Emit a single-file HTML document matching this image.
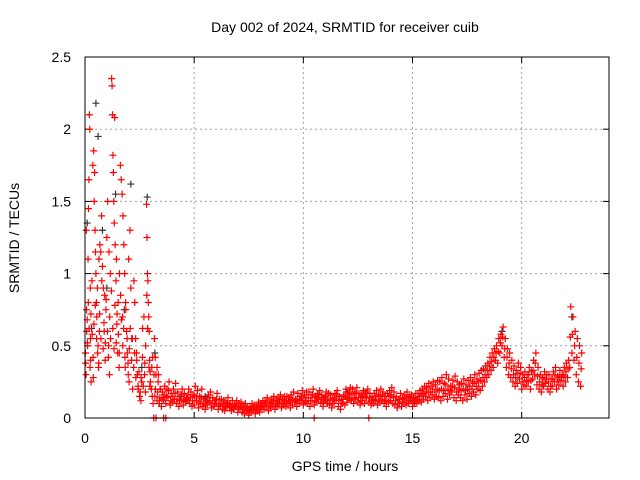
<!DOCTYPE html>
<html><head><meta charset="utf-8"><style>
html,body{margin:0;padding:0;background:#fff;}
svg{display:block;font-family:"Liberation Sans",sans-serif;}
</style></head><body>
<svg id="chart" width="640" height="480" viewBox="0 0 640 480">
<text x="345" y="32" text-anchor="middle" font-size="14">Day 002 of 2024, SRMTID for receiver cuib</text>
<text x="345" y="471" text-anchor="middle" font-size="14">GPS time / hours</text>
<text transform="translate(19,238) rotate(-90)" text-anchor="middle" font-size="14">SRMTID / TECUs</text>
<g id="grid"></g>
<g id="ticks"></g>
<g id="pts"></g>
<rect x="85" y="57" width="524" height="361" fill="none" stroke="#000" stroke-width="1"/>
</svg>
<script>
const xTicks=[0,5,10,15,20];
const yTicks=[0,0.5,1,1.5,2,2.5];
const yTickLabels=["0","0.5","1","1.5","2","2.5"];
const earlyX=[0.02,0.05,0.08,0.1,0.12,0.14,0.16,0.18,0.2,0.22,0.24,0.26,0.28,0.15,0.06,0.25,
0.32,0.36,0.4,0.44,0.46,0.5,0.54,0.58,0.62,0.66,0.68,0.42,0.52,0.6,0.64,0.38,0.48,
0.72,0.76,0.8,0.84,0.88,0.92,0.96,1.0,1.04,1.08,1.12,1.16,0.9,1.1,
1.22,1.24,1.26,1.28,1.3,1.34,1.38,1.42,1.46,1.5,1.32,1.36,1.44,1.52,1.56,1.58,
1.62,1.66,1.7,1.74,1.78,1.82,1.86,1.9,1.94,1.98,2.02,2.06,2.1,2.14,2.18,1.84,1.72,2.0,
2.24,2.28,2.32,2.36,2.4,2.44,2.5,2.56,2.6,2.64,2.7,2.74,2.78,
2.82,2.84,2.86,2.88,2.9,2.92,2.94,2.96,2.98,3.0,3.04,3.08,3.12,3.16,3.18,3.1,3.06,
3.22,3.3,3.36,3.44,3.15,3.25,3.6,3.7,10.5,13.0,
0.03,0.07,0.11,0.19,0.23,0.27,0.33,0.37,0.41,0.47,0.53,0.57,0.63,0.67,0.73,0.77,0.83,0.87,0.93,0.97,
1.03,1.07,1.13,1.17,1.21,1.27,1.33,1.37,1.43,1.47,1.53,1.57,1.63,1.67,1.73,1.77,1.83,1.87,1.93,1.97,
2.03,2.07,2.13,2.17,2.23,2.27,2.33,2.37,2.43,2.47,2.53,2.57,2.63,2.67,2.73,2.77,2.83,2.87,2.93,2.97];
const earlyY=[0.45,0.3,0.6,0.68,0.5,1.1,1.45,1.65,2.1,2.0,0.9,0.4,0.25,0.8,1.3,0.55,
0.95,1.75,1.85,1.7,1.3,1.0,0.7,0.45,0.35,0.6,1.2,1.5,0.8,0.5,1.1,0.28,1.15,
1.15,1.4,1.05,0.9,0.6,0.4,0.75,1.25,1.5,0.5,0.3,1.0,0.85,1.15,
2.35,2.3,2.1,1.82,1.7,1.35,1.2,0.95,0.65,0.45,1.5,2.08,1.1,0.8,0.35,1.0,
1.75,1.65,1.55,1.4,1.2,1.0,0.8,0.6,0.45,0.3,0.25,1.3,0.9,0.55,0.2,0.35,0.7,1.1,
0.95,0.8,0.55,0.45,0.3,0.2,0.15,0.12,0.25,0.62,0.7,0.38,0.5,
1.48,1.25,1.0,0.95,0.8,0.7,0.6,0.4,0.32,0.25,0.2,0.15,0.1,0.3,0.55,0.42,0.35,
0.42,0.35,0.3,0.2,0,0,0,0,0,0,
0.38,0.75,0.52,0.62,0.35,0.72,0.58,0.42,0.65,0.78,0.55,0.9,0.38,0.72,0.55,0.95,0.48,0.66,0.52,0.82,
0.6,0.42,0.7,0.55,0.88,0.62,0.48,0.78,0.52,0.72,0.58,0.45,0.85,0.68,0.5,0.62,0.42,0.75,0.55,0.38,
0.48,0.62,0.4,0.55,0.35,0.45,0.28,0.4,0.22,0.32,0.18,0.28,0.42,0.22,0.3,0.18,0.85,0.62,0.35,0.22];
const darkX=[0.5,0.6,0.1,2.1,2.85,0.8,1.4,3.2,3.4,1.8,0.3,1.0,2.6,19.1,22.3,5.5,12.0];
const darkY=[2.18,1.95,1.35,1.62,1.53,1.3,1.55,0.45,0.1,0.75,0.62,0.9,0.35,0.6,0.7,0.15,0.18];
const bandStart=3.2, bandStep=0.1;
const bandA=[.15,.12,.1,.08,.12,.1,.14,.09,.11,.13,
.1,.08,.12,.09,.11,.13,.1,.08,.09,.12,
.07,.1,.08,.06,.09,.11,.07,.08,.1,.06,
.08,.06,.05,.07,.09,.05,.06,.08,.04,.06,
.04,.03,.05,.02,.04,.06,.03,.05,.04,.07,
.06,.08,.05,.07,.09,.06,.08,.1,.07,.09,
.08,.1,.07,.09,.11,.08,.1,.12,.09,.11,
.1,.08,.12,.09,.11,.13,.1,.08,.12,.1,
.09,.07,.1,.12,.08,.06,.1,.09,.11,.13,
.12,.1,.13,.11,.09,.12,.1,.14,.11,.09,
.1,.12,.09,.11,.13,.1,.08,.11,.12,.1,
.09,.07,.1,.08,.11,.09,.1,.12,.08,.1,
.1,.12,.11,.13,.15,.12,.14,.16,.13,.15,
.14,.12,.15,.17,.13,.16,.18,.14,.12,.16,
.14,.12,.16,.13,.17,.15,.18,.16,.2,.19,
.22,.25,.28,.3,.33,.35,.4,.38,.45,.5,
.42,.35,.3,.28,.25,.22,.24,.27,.2,.23,
.22,.25,.2,.27,.3,.23,.2,.18,.22,.24,
.2,.18,.22,.25,.2,.23,.26,.22,.25,.28,
.35,.45,.4,.3,.25,.22];
const bandB=[.3,.25,.2,.18,.22,.2,.25,.17,.2,.24,
.18,.15,.2,.17,.14,.2,.18,.16,.22,.19,
.15,.2,.13,.12,.16,.18,.14,.12,.17,.13,
.13,.12,.11,.14,.1,.12,.09,.12,.1,.11,
.09,.1,.08,.07,.1,.09,.08,.11,.1,.12,
.12,.14,.11,.13,.15,.12,.14,.16,.13,.15,
.15,.14,.16,.18,.13,.17,.15,.19,.16,.18,
.18,.16,.2,.15,.17,.19,.16,.14,.18,.17,
.16,.14,.17,.19,.15,.13,.16,.2,.18,.21,
.2,.18,.21,.17,.16,.19,.18,.2,.17,.15,
.17,.19,.16,.2,.18,.15,.17,.19,.21,.18,
.15,.13,.17,.14,.16,.18,.15,.16,.14,.17,
.17,.19,.2,.22,.21,.24,.22,.25,.23,.26,
.25,.28,.24,.3,.27,.22,.26,.29,.25,.23,
.24,.27,.23,.26,.28,.25,.3,.27,.31,.33,
.34,.36,.38,.42,.45,.48,.5,.55,.58,.63,
.55,.48,.45,.4,.36,.33,.38,.35,.3,.32,
.3,.35,.32,.4,.45,.35,.3,.28,.32,.3,
.3,.27,.32,.35,.29,.33,.3,.35,.38,.4,
.77,.7,.6,.55,.5,.45];
const bandC=[.2,.18,.14,.13,.16,.15,.19,.12,.15,.17,
.13,.12,.16,.13,.12,.16,.14,.12,.15,.15,
.11,.14,.1,.09,.12,.14,.1,.1,.13,.09,
.1,.09,.08,.1,.07,.08,.07,.1,.07,.08,
.06,.07,.06,.05,.07,.07,.06,.08,.07,.09,
.09,.11,.08,.1,.12,.09,.11,.13,.1,.12,
.11,.12,.11,.13,.12,.12,.13,.15,.12,.14,
.14,.12,.16,.12,.14,.16,.13,.11,.15,.13,
.12,.1,.13,.16,.12,.1,.13,.15,.14,.17,
.16,.14,.17,.14,.12,.15,.14,.17,.14,.12,
.13,.15,.12,.15,.16,.12,.12,.15,.16,.14,
.12,.1,.13,.11,.13,.14,.12,.14,.11,.13,
.13,.15,.16,.17,.18,.18,.18,.2,.18,.2,
.19,.2,.19,.23,.2,.19,.22,.21,.18,.2,
.19,.2,.19,.2,.22,.2,.24,.22,.25,.26,
.28,.3,.33,.36,.39,.42,.45,.46,.52,.56,
.48,.42,.38,.34,.3,.28,.31,.31,.25,.28,
.26,.3,.26,.33,.38,.29,.25,.23,.27,.27,
.25,.22,.27,.3,.25,.28,.28,.29,.32,.34,
.56,.58,.5,.42,.38,.34];

const X0=85,X1=609,Y0=418,Y1=57,XMAX=24,YMAX=2.5;
const sx=v=>X0+v/XMAX*(X1-X0);
const sy=v=>Y0-v/YMAX*(Y0-Y1);
const NS="http://www.w3.org/2000/svg";
const grid=document.getElementById('grid'),ticks=document.getElementById('ticks'),pts=document.getElementById('pts');
function mk(tag,attrs,parent){const e=document.createElementNS(NS,tag);for(const k in attrs)e.setAttribute(k,attrs[k]);parent.appendChild(e);return e;}
xTicks.forEach(t=>{
  const x=sx(t);
  if(t>0){const g=mk('line',{x1:x,x2:x,y1:Y1,y2:Y0,stroke:'#a0a0a0','stroke-dasharray':'2,3'},grid);
  
  }
  mk('line',{x1:x,x2:x,y1:Y0,y2:Y0-6,stroke:'#000'},ticks);
  mk('line',{x1:x,x2:x,y1:Y1,y2:Y1+6,stroke:'#000'},ticks);
  const l=mk('text',{x:x,y:443,'text-anchor':'middle','font-size':'14'},ticks);
  l.textContent=String(t);
  
  
});
yTicks.forEach((t,i)=>{
  const y=sy(t);
  if(t>0&&t<YMAX){const g=mk('line',{x1:X0,x2:X1,y1:y,y2:y,stroke:'#a0a0a0','stroke-dasharray':'2,3'},grid);
  
  }
  mk('line',{x1:X0,x2:X0+6,y1:y,y2:y,stroke:'#000'},ticks);
  mk('line',{x1:X1,x2:X1-6,y1:y,y2:y,stroke:'#000'},ticks);
  const l=mk('text',{x:71,y:y+5,'text-anchor':'end','font-size':'14'},ticks);
  l.textContent=yTickLabels[i];
  
  
});
function cross(x,y,color){
  const px=sx(x),py=sy(y);
  const p=mk('path',{d:`M${px-3.5},${py}h7M${px},${py-3.5}v7`,stroke:color,'stroke-width':'1.2',fill:'none'},pts);
  
  
}
darkX.forEach((x,i)=>cross(x,darkY[i],'#333'));
bandA.forEach((v,i)=>cross(bandStart+i*bandStep,v,'#f00'));
bandB.forEach((v,i)=>cross(bandStart+i*bandStep+0.05,v,'#f00'));
bandC.forEach((v,i)=>cross(bandStart+i*bandStep+0.025,v,'#f00'));
earlyX.forEach((x,i)=>cross(x,earlyY[i],'#f00'));
</script>
</body></html>
